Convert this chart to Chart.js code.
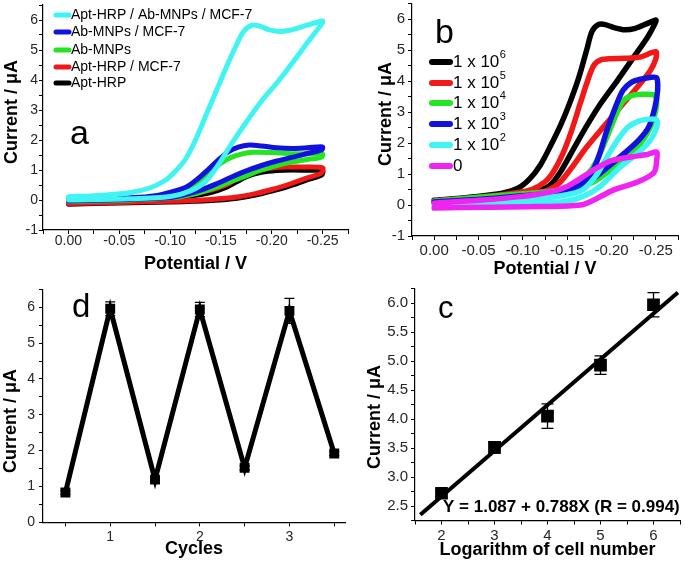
<!DOCTYPE html>
<html><head><meta charset="utf-8">
<script src="https://cdn.jsdelivr.net/npm/chart.js@4.4.0/dist/chart.umd.min.js"></script>
<style>
html,body{margin:0;padding:0;background:#fff;overflow:hidden;width:685px;height:565px;position:relative;}
canvas{position:absolute;left:-20px;top:-20px;}
</style></head><body>
<canvas id="pa" width="725" height="605"></canvas>
<canvas id="pb" width="725" height="605"></canvas>
<canvas id="pd" width="725" height="605"></canvas>
<canvas id="pc" width="725" height="605"></canvas>
<script>
// ---------------- DATA ----------------
// Panel a: cyclic voltammograms [potential V, current µA] (forward then reverse scan)
const aLabels = ['Apt-HRP / Ab-MNPs / MCF-7', 'Ab-MNPs / MCF-7', 'Ab-MNPs', 'Apt-HRP / MCF-7', 'Apt-HRP'];
const aCyan = [[0,0.11],[-0.03,0.15],[-0.06,0.24],[-0.08,0.4],[-0.095,0.65],[-0.105,0.95],[-0.115,1.35],[-0.125,2.0],[-0.135,2.8],[-0.145,3.6],[-0.155,4.4],[-0.165,5.15],[-0.172,5.6],[-0.18,5.82],[-0.188,5.8],[-0.197,5.68],[-0.207,5.62],[-0.218,5.66],[-0.23,5.78],[-0.242,5.9],[-0.25,5.97],
  [-0.249,5.86],[-0.237,5.33],[-0.221,4.6],[-0.205,3.9],[-0.19,3.3],[-0.175,2.6],[-0.16,1.85],[-0.147,1.15],[-0.135,0.62],[-0.12,0.3],[-0.1,0.12],[-0.06,0.04],[0,0.0]];
const aBlue = [[0,0.0],[-0.04,0.04],[-0.07,0.09],[-0.09,0.17],[-0.105,0.3],[-0.117,0.45],[-0.127,0.7],[-0.137,1.0],[-0.147,1.32],[-0.157,1.6],[-0.167,1.76],[-0.178,1.83],[-0.19,1.8],[-0.205,1.74],[-0.22,1.72],[-0.235,1.74],[-0.25,1.77],
  [-0.249,1.67],[-0.235,1.55],[-0.221,1.43],[-0.205,1.3],[-0.19,1.15],[-0.175,0.97],[-0.16,0.76],[-0.145,0.53],[-0.13,0.33],[-0.115,0.18],[-0.1,0.08],[-0.06,0.02],[0,-0.03]];
const aGreen = [[0,-0.02],[-0.05,0.02],[-0.09,0.1],[-0.107,0.18],[-0.12,0.38],[-0.13,0.67],[-0.14,0.95],[-0.15,1.23],[-0.16,1.42],[-0.17,1.53],[-0.182,1.59],[-0.2,1.58],[-0.225,1.54],[-0.25,1.53],
  [-0.249,1.43],[-0.235,1.35],[-0.221,1.27],[-0.205,1.15],[-0.19,1.0],[-0.172,0.77],[-0.155,0.55],[-0.14,0.36],[-0.125,0.21],[-0.105,0.09],[-0.06,0.0],[0,-0.05]];
const aRed = [[0,-0.08],[-0.05,-0.02],[-0.09,0.08],[-0.12,0.2],[-0.14,0.33],[-0.155,0.5],[-0.165,0.7],[-0.175,0.88],[-0.187,1.0],[-0.2,1.07],[-0.215,1.1],[-0.232,1.1],[-0.25,1.07],
  [-0.249,0.9],[-0.234,0.73],[-0.215,0.5],[-0.2,0.35],[-0.185,0.22],[-0.166,0.1],[-0.14,0.02],[-0.1,-0.04],[-0.05,-0.08],[0,-0.12]];
const aBlack = [[0,-0.12],[-0.05,-0.06],[-0.09,0.03],[-0.12,0.13],[-0.14,0.25],[-0.155,0.42],[-0.165,0.6],[-0.177,0.8],[-0.19,0.92],[-0.205,0.98],[-0.22,1.0],[-0.235,0.99],[-0.25,0.97],
  [-0.249,0.83],[-0.234,0.66],[-0.215,0.44],[-0.2,0.3],[-0.185,0.17],[-0.166,0.06],[-0.14,-0.02],[-0.1,-0.07],[-0.05,-0.1],[0,-0.14]];

// Panel b: voltammograms for cell numbers
const bMain = ['1 x 10', '1 x 10', '1 x 10', '1 x 10', '1 x 10', '0'];
const bSup = ['6', '5', '4', '3', '2', ''];
const bBlack = [[0,0.15],[-0.04,0.25],[-0.077,0.38],[-0.095,0.55],[-0.108,0.85],[-0.12,1.3],[-0.132,1.95],[-0.143,2.6],[-0.153,3.3],[-0.163,4.1],[-0.172,5.0],[-0.178,5.6],[-0.185,5.82],[-0.193,5.82],[-0.203,5.72],[-0.215,5.65],[-0.227,5.7],[-0.24,5.85],[-0.25,5.97],
  [-0.249,5.85],[-0.241,5.43],[-0.225,4.77],[-0.207,4.03],[-0.188,3.28],[-0.172,2.55],[-0.157,1.8],[-0.142,1.05],[-0.13,0.62],[-0.115,0.45],[-0.08,0.35],[-0.04,0.25],[0,0.12]];
const bRed = [[0,0.13],[-0.05,0.25],[-0.089,0.38],[-0.11,0.5],[-0.125,0.75],[-0.135,1.1],[-0.145,1.65],[-0.155,2.4],[-0.165,3.3],[-0.173,4.0],[-0.18,4.5],[-0.188,4.68],[-0.2,4.72],[-0.215,4.73],[-0.232,4.77],[-0.25,4.94],
  [-0.25,4.72],[-0.244,4.35],[-0.229,3.8],[-0.21,3.16],[-0.191,2.52],[-0.172,1.87],[-0.155,1.2],[-0.14,0.68],[-0.125,0.45],[-0.09,0.33],[-0.05,0.23],[0,0.1]];
const bGreen = [[0,0.12],[-0.05,0.25],[-0.1,0.36],[-0.127,0.43],[-0.145,0.5],[-0.16,0.65],[-0.172,0.95],[-0.183,1.4],[-0.195,2.2],[-0.205,2.9],[-0.213,3.35],[-0.222,3.52],[-0.235,3.57],[-0.248,3.55],[-0.251,3.35],
  [-0.25,3.06],[-0.244,2.52],[-0.233,2.0],[-0.218,1.55],[-0.199,1.13],[-0.18,0.75],[-0.157,0.48],[-0.127,0.32],[-0.06,0.2],[0,0.1]];
const bBlue = [[0,0.1],[-0.06,0.2],[-0.1,0.3],[-0.134,0.39],[-0.155,0.5],[-0.168,0.7],[-0.178,1.05],[-0.186,1.6],[-0.195,2.42],[-0.205,3.2],[-0.213,3.7],[-0.222,3.95],[-0.233,4.06],[-0.245,4.12],[-0.251,4.1],
  [-0.252,3.7],[-0.249,3.16],[-0.242,2.52],[-0.231,2.1],[-0.215,1.68],[-0.196,1.23],[-0.177,0.8],[-0.155,0.52],[-0.117,0.32],[-0.06,0.18],[0,0.06]];
const bCyan = [[0,0.03],[-0.05,0.08],[-0.097,0.16],[-0.13,0.25],[-0.15,0.33],[-0.165,0.45],[-0.175,0.68],[-0.185,1.05],[-0.195,1.55],[-0.207,2.1],[-0.218,2.5],[-0.23,2.7],[-0.244,2.77],[-0.251,2.74],
  [-0.251,2.52],[-0.244,2.1],[-0.23,1.68],[-0.21,1.23],[-0.188,0.62],[-0.17,0.3],[-0.15,0.13],[-0.12,0.06],[-0.06,0.02],[0,0.0]];
const bMagenta = [[0,0.06],[-0.05,0.15],[-0.097,0.27],[-0.13,0.42],[-0.15,0.6],[-0.17,0.95],[-0.185,1.22],[-0.2,1.43],[-0.222,1.55],[-0.24,1.63],[-0.251,1.71],
  [-0.251,1.45],[-0.248,1.05],[-0.23,0.75],[-0.202,0.48],[-0.18,0.16],[-0.165,0.0],[-0.12,-0.05],[-0.06,-0.07],[0,-0.1]];

// Panel d: cycles
const dX = [0.5, 1, 1.5, 2, 2.5, 3, 3.5];
const dY = [0.83, 5.96, 1.19, 5.94, 1.52, 5.9, 1.92];
const dErr = [0.05, 0.19, 0.06, 0.2, 0.06, 0.35, 0.06];

// Panel c: calibration
const cX = [2, 3, 4, 5, 6];
const cY = [2.72, 3.51, 4.05, 4.93, 5.97];
const cErr = [0.06, 0.1, 0.21, 0.16, 0.21];
const cFitX = [1.6, 6.46];
const cFitY = [2.35, 6.18];
const cEquation = 'Y = 1.087 + 0.788X (R = 0.994)';

// Tick values
const cvXMajor = [0, -0.05, -0.1, -0.15, -0.2, -0.25];
const cvXMinor = [0.025, -0.025, -0.075, -0.125, -0.175, -0.225, -0.275];
const cvYMajor = [-1, 0, 1, 2, 3, 4, 5, 6];
const cvYMinor = [-0.5, 0.5, 1.5, 2.5, 3.5, 4.5, 5.5, 6.5];
const dXMajor = [1, 2, 3];
const dXMinor = [0.5, 1.5, 2.5, 3.5];
const dYMajor = [0, 1, 2, 3, 4, 5, 6];
const dYMinor = [0.5, 1.5, 2.5, 3.5, 4.5, 5.5, 6.5];
const cXMajor = [2, 3, 4, 5, 6];
const cXMinor = [1.5, 2.5, 3.5, 4.5, 5.5, 6.5];
const cYMajor = [2.5, 3.0, 3.5, 4.0, 4.5, 5.0, 5.5, 6.0];
const cYMinor = [2.25, 2.75, 3.25, 3.75, 4.25, 4.75, 5.25, 5.75, 6.25];

// ---------------- STYLE / LAYOUT ----------------
const M = 20;
const FF = "'Liberation Sans', Arial, Helvetica, sans-serif";
const aColors = ['#40f4f4', '#1212e0', '#24e424', '#f31818', '#000000'];
const bColors = ['#000000', '#f31818', '#24e424', '#1212e0', '#40f4f4', '#f024f0'];

function pts(arr) { return arr.map(p => ({x: p[0], y: p[1]})); }
function isIn(list, v) { return list.some(m => Math.abs(m - v) < 1e-9); }

function axis(o) {
  const all = o.major.concat(o.minor).slice().sort((p, q) => p - q);
  return {
    type: 'linear', position: o.pos, min: o.min, max: o.max, reverse: !!o.reverse, bounds: 'data',
    afterFit: s => { if (o.pos === 'left') s.width = o.size; else s.height = o.size; },
    afterBuildTicks: s => { s.ticks = all.map(v => ({value: v})); },
    border: {display: true, color: '#000', width: 1.2},
    grid: {display: true, drawOnChartArea: false, drawTicks: true, tickLength: 4, color: '#000', lineWidth: 1},
    ticks: {autoSkip: false, maxRotation: 0, minRotation: 0, padding: o.pad, color: '#262626',
      font: {family: FF, size: o.fs, lineHeight: 1},
      callback: v => isIn(o.major, v) ? o.fmt(v) : ''},
    title: o.title ? {display: true, text: o.title, color: '#000', padding: 0,
      font: {family: FF, size: 18, weight: 'bold', lineHeight: 1.2}} : {display: false}
  };
}

const textPlugin = {
  id: 'panelText',
  afterDraw(chart, args, opts) {
    const ctx = chart.ctx;
    ctx.save();
    ctx.translate(M, M);
    (opts.items || []).forEach(it => {
      ctx.save();
      ctx.font = it.font;
      ctx.fillStyle = it.color || '#000';
      ctx.textAlign = it.align || 'left';
      ctx.textBaseline = it.baseline || 'alphabetic';
      ctx.translate(it.x, it.y);
      if (it.rot) ctx.rotate(it.rot);
      ctx.fillText(it.text, 0, 0);
      ctx.restore();
    });
    const lg = opts.legend;
    if (lg) {
      lg.labels.forEach((lab, i) => {
        const y = lg.rows[i];
        ctx.strokeStyle = lg.colors[i];
        ctx.lineWidth = lg.lw;
        ctx.lineCap = 'round';
        ctx.beginPath(); ctx.moveTo(lg.x0, y); ctx.lineTo(lg.x1, y); ctx.stroke();
        ctx.fillStyle = '#000';
        ctx.font = lg.font;
        ctx.textAlign = 'left';
        ctx.textBaseline = 'middle';
        ctx.fillText(lab, lg.tx, y);
        if (lg.sups && lg.sups[i]) {
          const w = ctx.measureText(lab).width;
          ctx.font = lg.supFont;
          ctx.fillText(lg.sups[i], lg.tx + w + 0.5, y + lg.supDy);
        }
      });
    }
    ctx.restore();
  }
};

function pad(L, T, R, B, W, H) {
  return {left: L - W + M, top: T + M, right: 685 - R + M, bottom: 565 - B - H + M};
}

function baseOptions(p, xs, ys, texts, legend) {
  return {
    responsive: false, animation: false, events: [],
    layout: {padding: pad(p.L, p.T, p.R, p.B, ys.size, xs.size)},
    scales: {x: axis(xs), y: axis(ys)},
    plugins: {legend: {display: false}, tooltip: {enabled: false},
      panelText: {items: texts, legend: legend}}
  };
}

function cvDataset(arr, color, order, lw) {
  return {data: pts(arr), showLine: true, borderColor: color, borderWidth: lw, pointRadius: 0,
    tension: 0.3, fill: false, borderCapStyle: 'round', borderJoinStyle: 'round', order: order};
}

function errDatasets(xs, ys, es, r) {
  return xs.map((x, i) => ({data: [{x: x, y: ys[i] - es[i]}, {x: x, y: ys[i] + es[i]}],
    showLine: true, borderColor: '#000', borderWidth: 1.3, pointStyle: 'line', pointRadius: r,
    pointBorderColor: '#000', pointBorderWidth: 1.3, order: 5}));
}

const cvFmt = v => (Math.abs(v) < 1e-9 ? '0.00' : v.toFixed(2));
const intFmt = v => String(Math.round(v));
const yTitleFont = 'bold 18px ' + FF;

// ---------------- PANEL a ----------------
new Chart(document.getElementById('pa'), {
  type: 'scatter',
  data: {datasets: [aCyan, aBlue, aGreen, aRed, aBlack].map((d, i) => Object.assign(cvDataset(d, aColors[i], i, 5), {label: aLabels[i]}))},
  options: baseOptions({L: 43, T: 5, R: 348, B: 230},
    {pos: 'bottom', min: -0.275, max: 0.025, reverse: true, major: cvXMajor, minor: cvXMinor, fmt: cvFmt, size: 44.6, pad: 0, fs: 14, title: 'Potential / V'},
    {pos: 'left', min: -1, max: 6.5, major: cvYMajor, minor: cvYMinor, fmt: intFmt, size: 30, pad: 1, fs: 14},
    [{text: 'a', x: 70, y: 144, font: '34px ' + FF},
     {text: 'Current / μA', x: 12, y: 112, font: yTitleFont, align: 'center', baseline: 'middle', rot: -Math.PI / 2}],
    {labels: aLabels, colors: aColors, rows: [15, 32, 50, 67, 83], x0: 56, x1: 69, tx: 71, lw: 5, font: '14px ' + FF})
  , plugins: [textPlugin]
});

// ---------------- PANEL b ----------------
new Chart(document.getElementById('pb'), {
  type: 'scatter',
  data: {datasets: [bBlack, bRed, bGreen, bBlue, bCyan, bMagenta].map((d, i) => Object.assign(cvDataset(d, bColors[i], 6 - i, 5.5), {label: bMain[i] + bSup[i]}))},
  options: baseOptions({L: 412, T: 3.5, R: 678, B: 236},
    {pos: 'bottom', min: -0.275, max: 0.025, reverse: true, major: cvXMajor, minor: cvXMinor, fmt: cvFmt, size: 43.6, pad: 3, fs: 15, title: 'Potential / V'},
    {pos: 'left', min: -1, max: 6.5, major: cvYMajor, minor: cvYMinor, fmt: intFmt, size: 30, pad: 3, fs: 15},
    [{text: 'b', x: 435, y: 43, font: '34px ' + FF},
     {text: 'Current / μA', x: 386.5, y: 114, font: yTitleFont, align: 'center', baseline: 'middle', rot: -Math.PI / 2}],
    {labels: bMain, sups: bSup, colors: bColors, rows: [62, 83, 103, 124, 145, 166], x0: 432, x1: 450, tx: 453, lw: 6,
     font: '17px ' + FF, supFont: '11px ' + FF, supDy: -7})
  , plugins: [textPlugin]
});

// ---------------- PANEL d ----------------
new Chart(document.getElementById('pd'), {
  type: 'scatter',
  data: {datasets: [
    {label: 'Cycles', data: dX.map((x, i) => ({x: x, y: dY[i]})), showLine: true, borderColor: '#000', borderWidth: 5,
     tension: 0, pointStyle: 'rect', pointRadius: 7, pointBackgroundColor: '#000', pointBorderWidth: 0, order: 1}
  ].concat(errDatasets(dX, dY, dErr, 5))},
  options: baseOptions({L: 43, T: 289.4, R: 345, B: 522.3},
    {pos: 'bottom', min: 0.25, max: 3.62, major: dXMajor, minor: dXMinor, fmt: intFmt, size: 38, pad: 4, fs: 14, title: 'Cycles'},
    {pos: 'left', min: 0, max: 6.5, major: dYMajor, minor: dYMinor, fmt: intFmt, size: 30, pad: 4, fs: 14},
    [{text: 'd', x: 72, y: 317, font: '33px ' + FF},
     {text: 'Current / μA', x: 11.5, y: 421, font: yTitleFont, align: 'center', baseline: 'middle', rot: -Math.PI / 2}],
    null)
  , plugins: [textPlugin]
});

// ---------------- PANEL c ----------------
new Chart(document.getElementById('pc'), {
  type: 'scatter',
  data: {datasets: [
    {label: 'fit', data: cFitX.map((x, i) => ({x: x, y: cFitY[i]})), showLine: true, borderColor: '#000', borderWidth: 4,
     pointRadius: 0, tension: 0, order: 2},
    {label: 'data', data: cX.map((x, i) => ({x: x, y: cY[i]})), showLine: false, pointStyle: 'rect', pointRadius: 9,
     pointBackgroundColor: '#000', pointBorderWidth: 0, order: 1}
  ].concat(errDatasets(cX, cY, cErr, 6))},
  options: baseOptions({L: 415, T: 288.5, R: 680, B: 520.5},
    {pos: 'bottom', min: 1.5, max: 6.5, major: cXMajor, minor: cXMinor, fmt: intFmt, size: 40, pad: 4, fs: 15, title: 'Logarithm of cell number'},
    {pos: 'left', min: 2.25, max: 6.25, major: cYMajor, minor: cYMinor, fmt: v => v.toFixed(1), size: 35, pad: 3, fs: 15},
    [{text: 'c', x: 438, y: 318, font: '31px ' + FF},
     {text: 'Current / μA', x: 375, y: 417, font: yTitleFont, align: 'center', baseline: 'middle', rot: -Math.PI / 2},
     {text: cEquation, x: 443, y: 512, font: 'bold 17px ' + FF}],
    null)
  , plugins: [textPlugin]
});
</script>
</body></html>
